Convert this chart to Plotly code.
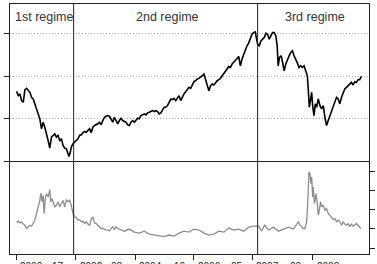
import plotly.graph_objects as go

# ---- data: top panel (index level, arbitrary units) ----
t_top = [20,25,30,35,40,45,50,55,60,65,70,75,80,85,90,95,100,105,110,115,120,125,130,135,140,145,150,155,160,165,170,175,178,182,185,190,195,200,205,210,215,220,225,230,235,240,245,250,255,260,265,270,275,280,285,290,295,300,305,310,315,320,325,330,335,340,345,350,355,360,365,370,375,380,385,390,395,400,405,410,415,420,425,430,435,440,445,450,455,460,465,470,475,480,485,490,495,500,505,510,515,520,525,530,535,540,
         545,550,555,560,565,570,575,580,585,590,595,600,605,610,615,620,625,630,635,640,645,650,655,660,665,670,675,680,685,690,695,700,705,710,715,720,725,730,735,740,743,747,752,757,762,767,772,777,782,787,792,797,802,806,809,813,818,822,827,832,837,842,847,852,857,862,867,872,877,882,887,892,897,900,903,907,910,913,917,921,925,930,935,940,945,950,955,960,965,970,975,980,985,990,995,1000,1005,1010,1015,1020,1025,1030,1035,1040,1045,1050,1055,1060]
level = [70.3,66,67.7,61,59.3,72,73.3,71,69.3,64.3,62.7,57.7,52.7,46,42.7,32.7,39.3,34.3,26,21,13.3,24.3,26,27.7,24.3,26,21,22.7,16,13.3,12.7,7.7,5,9.3,14.3,17.7,19.3,21,22.7,26,26.7,28.7,30,29.3,31,32.7,28.7,34.3,36,36.7,37.7,39.3,36.7,41,44.3,45.3,46,45.3,42.7,39.3,44.3,41,37.7,41,43.3,41,40,39.3,36.7,36,39.3,41,39.3,41,43.3,42.7,46,46.7,47.7,46.7,48.7,49.3,50,51,50,51,50,47.7,48.7,51,54.3,54.3,56,59.3,62.7,62,63.3,61,64.3,66,61,65.3,67.7,70,72,74.3,
         73.3,77.7,80,81,82.7,83.3,84.3,86,87.7,82.7,77.7,71,76,77.7,76.7,79.3,81,82,83.3,86,88.7,90,92.7,95.3,94.3,97.7,99.3,101,103.3,105.3,96,102.7,107.7,112.7,116,118.7,122.7,127.7,129.3,130,124.3,117.7,116,121,122.7,124.3,128.7,127.7,122.7,126,129.3,129.3,126,116,96,104.3,106,100,91,97.7,102.7,106,109.3,111,106,102.7,98.7,94.3,96,94.3,96,91,86,71,54.3,62.7,69.3,56,46,57.7,54.3,62.7,56,52.7,56,44.3,36,41,46,51,56,60,64.3,62.7,57.7,64.3,69.3,72.7,74.3,76,77.7,79.3,76.7,80,79.3,82,82,85.3]

# ---- data: bottom panel (volatility) ----
t_vol = [20,25,30,35,40,45,50,55,60,65,70,75,80,85,90,93,97,100,103,107,110,115,118,120,123,127,130,135,140,145,150,155,160,165,170,175,180,185,190,195,200,205,210,215,220,225,230,235,240,245,250,255,260,265,270,275,280,285,290,295,300,305,310,315,320,325,
         345,360,375,390,405,420,435,450,465,480,495,510,525,540,555,570,585,600,615,630,645,660,675,690,705,720,735,750,759,768,780,795,810,825,840,855,
         870,875,880,885,890,895,898,900,902,905,908,910,913,915,918,920,923,927,930,933,937,940,945,950,955,960,965,970,975,980,985,990,995,1000,1005,1010,1015,1020,1025,1030,1035,1040,1045,1050,1055,1058]
vol = [23.4,24.0,23.1,23.7,22.5,21.9,20.2,21.1,21.9,21.4,22.8,24.5,28.0,31.5,34.9,38.7,34.1,37.5,28.0,36.6,38.4,36.6,40.1,40.5,34.1,35.8,34.1,31.5,32.3,34.1,31.5,33.2,34.9,31.5,35.3,34.1,34.9,32.3,28.0,26.3,25.9,24.5,24.9,23.7,24.0,22.8,23.7,22.5,21.9,24.9,26.3,23.1,22.8,21.9,21.1,20.2,20.2,19.7,19.4,19.4,19.0,20.2,21.1,19.7,21.1,20.2,
       18.8,19.9,18.3,17.8,18.8,17.3,16.8,16.2,16.0,16.8,16.2,17.8,18.8,18.3,19.9,19.4,17.8,16.8,17.3,18.8,18.3,20.4,19.4,19.9,18.8,20.9,21.4,21.4,18.8,21.9,19.4,20.9,18.8,19.9,20.9,19.9,
       23.7,21.9,21.1,20.2,20.2,23.7,33.2,41.8,49.6,48.8,43.6,47.0,36.6,41.8,33.2,34.9,38.4,33.2,27.1,29.7,34.1,31.5,32.3,29.7,30.6,28.0,27.1,26.3,24.9,25.4,23.7,24.5,23.7,21.9,23.7,22.5,21.9,22.8,21.1,22.5,21.4,21.9,22.8,21.9,21.1,20.2]

regime_names = ["1st regime", "2nd regime", "3rd regime"]
regime_centers = [102, 474, 921]
regime_breaks = [192, 747]

x_tick_vals = [21, 198, 378, 555, 732, 912]
date_label_pos = [-30, 24, 120, 204, 300, 384, 489, 561, 660, 735, 840, 921]
date_label_text = ["03", "2000", "17", "2002", "08", "2004", "10", "2006", "05", "2007", "08", "2008"]

top_ticks = [0, 42.7, 85.3, 128]
vol_ticks = [10, 20, 30, 40, 50]

FONT = "Liberation Sans, Arial, sans-serif"
AX = "#222222"
split = 0.3705

fig = go.Figure()
fig.add_trace(go.Scatter(x=t_top, y=level, mode="lines", line=dict(color="black", width=1.6),
                         xaxis="x", yaxis="y", showlegend=False, hoverinfo="skip"))
fig.add_trace(go.Scatter(x=t_vol, y=vol, mode="lines", line=dict(color="#8c8c8c", width=1.3),
                         xaxis="x2", yaxis="y2", showlegend=False, hoverinfo="skip"))

for b in regime_breaks:
    fig.add_shape(type="line", xref="x", yref="paper", x0=b, x1=b, y0=0, y1=1,
                  line=dict(color=AX, width=1))

ann = []
for name, c in zip(regime_names, regime_centers):
    ann.append(dict(x=c, y=0.948, xref="x", yref="paper", text=name, showarrow=False,
                    font=dict(family=FONT, size=12.5, color="#333333"), xanchor="center", yanchor="middle"))
for p, s in zip(date_label_pos, date_label_text):
    ann.append(dict(x=p, y=-0.018, xref="x2", yref="paper", text=s, showarrow=False,
                    font=dict(family=FONT, size=10, color="#222222"), xanchor="left", yanchor="top"))

fig.update_layout(
    width=377, height=264,
    margin=dict(l=10, r=6, t=3, b=10),
    paper_bgcolor="white", plot_bgcolor="white",
    font=dict(family=FONT),
    annotations=ann,
    xaxis=dict(domain=[0, 1], anchor="y", range=[0, 1083], showticklabels=False, ticks="",
               showgrid=False, zeroline=False, showline=True, linecolor=AX, linewidth=1, mirror=True),
    yaxis=dict(domain=[split, 1], anchor="x", range=[0, 158], tickvals=top_ticks, showticklabels=False,
               ticks="outside", ticklen=5, tickcolor=AX, showgrid=True, gridcolor="#b0b0b0",
               griddash="1px,2px", gridwidth=1, zeroline=False, showline=True, linecolor=AX,
               linewidth=1, mirror=True),
    xaxis2=dict(domain=[0, 1], anchor="y2", matches="x", range=[0, 1083], tickvals=x_tick_vals,
                showticklabels=False, ticks="outside", ticklen=5, tickcolor=AX, showgrid=False,
                zeroline=False, showline=True, linecolor=AX, linewidth=1, mirror=False),
    yaxis2=dict(domain=[0, split], anchor="x2", side="right", range=[6.9, 55.2], tickvals=vol_ticks,
                showticklabels=False, ticks="outside", ticklen=5, tickcolor=AX, showgrid=False,
                zeroline=False, showline=True, linecolor=AX, linewidth=1, mirror=True),
)

fig.write_html("out.html")
